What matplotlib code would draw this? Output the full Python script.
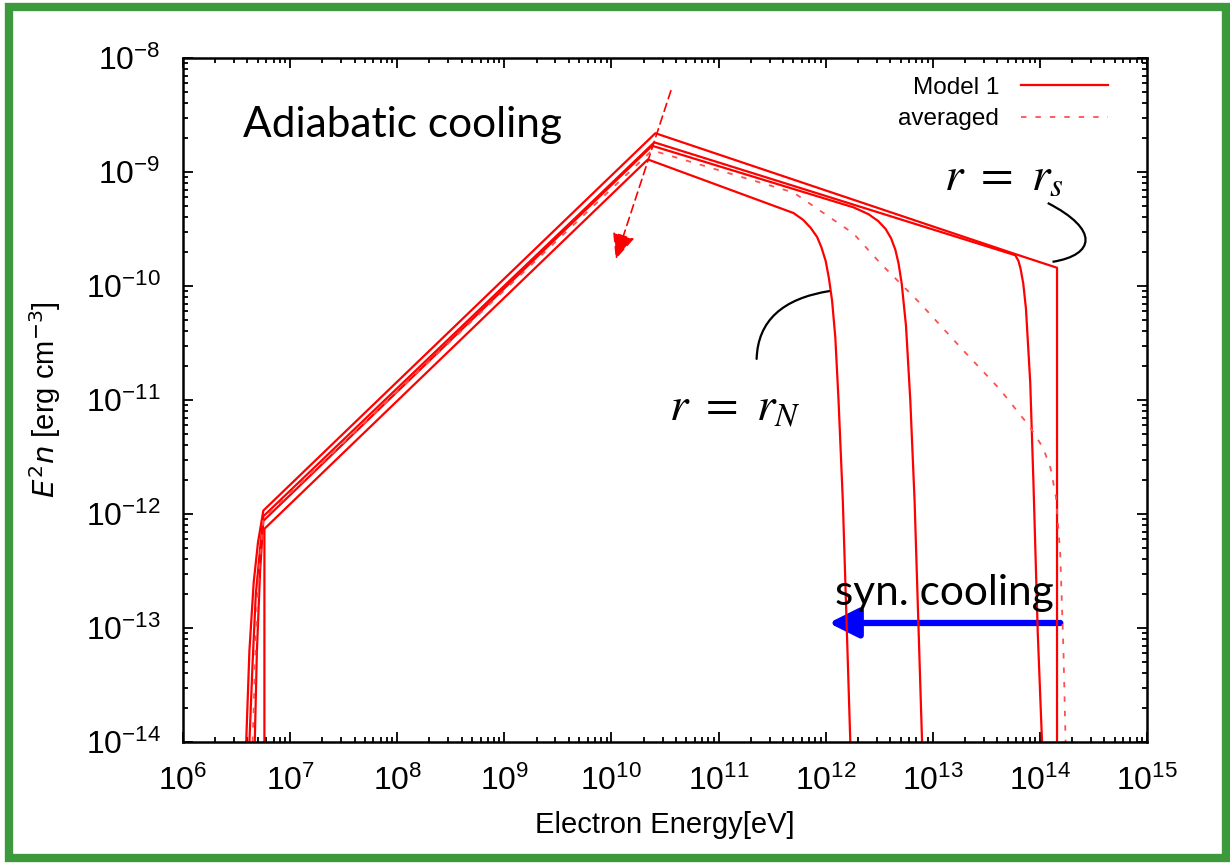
import numpy as np
import matplotlib.pyplot as plt
from matplotlib.patches import FancyArrowPatch, Rectangle, PathPatch
from matplotlib.path import Path
from matplotlib.ticker import LogLocator, NullFormatter

plt.rcParams['font.family'] = ['Liberation Sans', 'DejaVu Sans']
plt.rcParams['axes.unicode_minus'] = False

# spectra, stored as log10(E [eV]) and log10(E^2 n)
logE_rs = [6.59, 6.62, 6.66, 6.70, 6.75, 10.41, 13.77, 14.16, 14.16]
logN_rs = [-14.0, -13.2, -12.6, -12.25, -11.97, -8.66, -9.72, -9.84, -14.0]

logE_r2 = [6.62, 6.65, 6.68, 6.72, 6.75, 10.40, 13.77, 13.80, 13.82, 13.845, 13.87,
           13.91, 13.94, 13.98, 14.02]
logN_r2 = [-14.0, -13.3, -12.7, -12.3, -12.02, -8.74, -9.73, -9.78, -9.85, -9.98, -10.2,
           -10.85, -11.73, -13.04, -14.0]

logE_r3 = [6.67, 6.69, 6.72, 6.75, 10.38, 12.26, 12.40, 12.49, 12.56, 12.61, 12.65,
           12.68, 12.71, 12.75, 12.79, 12.83, 12.90]
logN_r3 = [-14.0, -13.2, -12.5, -12.06, -8.77, -9.31, -9.37, -9.43, -9.50, -9.58, -9.68,
           -9.80, -9.98, -10.35, -11.0, -11.88, -14.0]

logE_rN = [6.76, 6.76, 10.34, 11.70, 11.79, 11.86, 11.92, 11.96, 12.00, 12.03, 12.06,
           12.09, 12.12, 12.16, 12.23]
logN_rN = [-14.0, -12.13, -8.89, -9.36, -9.42, -9.49, -9.57, -9.66, -9.78, -9.93, -10.13,
           -10.45, -11.0, -11.88, -14.0]

logE_avg = [6.65, 6.68, 6.71, 6.75, 10.38, 11.70, 12.26, 12.51, 12.88, 13.28, 13.63,
            13.91, 14.03, 14.10, 14.15, 14.19, 14.22, 14.24]
logN_avg = [-14.0, -13.1, -12.5, -12.04, -8.81, -9.18, -9.54, -9.80, -10.15, -10.56, -10.91,
            -11.24, -11.42, -11.60, -11.85, -12.35, -13.20, -14.0]

x_decades = np.arange(6, 16)
y_decades = np.arange(-14, -7)

fig = plt.figure(figsize=(12.3, 8.65), dpi=100)
ax = fig.add_axes([183 / 1230, 1 - 742 / 865, 964 / 1230, 684 / 865])

red = '#ff0000'
curves = [(logE_rs, logN_rs), (logE_r2, logN_r2), (logE_r3, logN_r3), (logE_rN, logN_rN)]
for i, (le, ln) in enumerate(curves):
    ax.plot(10 ** np.array(le), 10 ** np.array(ln), color=red, lw=1.6,
            solid_joinstyle='round', label='Model 1' if i == 0 else None)
ax.plot(10 ** np.array(logE_avg), 10 ** np.array(logN_avg), color='#ff5050', lw=1.3,
        dashes=(3, 5), label='averaged')

ax.set_xscale('log')
ax.set_yscale('log')
ax.set_xlim(1e6, 1e15)
ax.set_ylim(1e-14, 1e-8)
ax.set_xticks(10.0 ** x_decades)
ax.set_yticks(10.0 ** y_decades)
ax.xaxis.set_minor_locator(LogLocator(base=10, subs=np.arange(2, 10), numticks=12))
ax.xaxis.set_minor_formatter(NullFormatter())
ax.yaxis.set_minor_locator(LogLocator(base=10, subs=np.arange(2, 10), numticks=12))
ax.yaxis.set_minor_formatter(NullFormatter())
ax.tick_params(which='both', direction='in', top=True, right=True, width=1.3)
ax.tick_params(which='major', length=7, labelsize=23)
ax.tick_params(axis='x', which='major', pad=17)
ax.tick_params(axis='y', which='major', pad=16)
ax.tick_params(which='minor', length=3.5)
for s in ax.spines.values():
    s.set_linewidth(1.8)

ax.set_xlabel('Electron Energy[eV]', fontsize=21, labelpad=10)
ax.set_ylabel(r'$E^2n$ [erg cm$^{-3}$]', fontsize=21, labelpad=16)

leg = ax.legend(loc='upper right', bbox_to_anchor=(0.97, 0.987), frameon=False,
                markerfirst=False, fontsize=17.5, handlelength=3.6, handletextpad=0.9,
                labelspacing=0.4, borderaxespad=0)

# slide annotations (axes fraction positions)
ax.text(0.062, 0.884, 'Adiabatic cooling', transform=ax.transAxes, fontsize=30.5,
        family='Lato', va='baseline')
ax.text(0.676, 0.200, 'syn. cooling', transform=ax.transAxes, fontsize=30.5,
        family='Lato', va='baseline')
ax.text(0.789, 0.807, r'$r\ =\ r_s$', transform=ax.transAxes, fontsize=34,
        math_fontfamily='stix', va='baseline')
ax.text(0.504, 0.471, r'$r\ =\ r_N$', transform=ax.transAxes, fontsize=34,
        math_fontfamily='stix', va='baseline')

ax.add_patch(FancyArrowPatch((0.507, 0.956), (0.448, 0.702), transform=ax.transAxes,
                             arrowstyle='-|>,head_length=0.8,head_width=0.35',
                             mutation_scale=20, color=red, lw=1.2, linestyle=(0, (5, 3)),
                             clip_on=False))
ax.add_patch(FancyArrowPatch((0.913, 0.174), (0.667, 0.174), transform=ax.transAxes,
                             arrowstyle='-|>,head_length=1.0,head_width=0.5',
                             mutation_scale=18, color='#0000ff', lw=4.5))
ax.add_patch(FancyArrowPatch((0.674, 0.660), (0.595, 0.556), transform=ax.transAxes,
                             arrowstyle='-', connectionstyle='angle3,angleA=188,angleB=90',
                             color='black', lw=1.6))
leader = Path([(0.897, 0.788), (0.951, 0.749), (0.946, 0.712), (0.902, 0.702)],
              [Path.MOVETO, Path.CURVE4, Path.CURVE4, Path.CURVE4])
ax.add_patch(PathPatch(leader, transform=ax.transAxes, fill=False, color='black', lw=1.6,
                       clip_on=False))

# green slide frame
fig.patches.append(Rectangle((9 / 1230, 7 / 865), 1217 / 1230, 851 / 865,
                             transform=fig.transFigure, fill=False,
                             edgecolor='#3c9a3c', lw=6))

fig.savefig('out.png', dpi=100)
